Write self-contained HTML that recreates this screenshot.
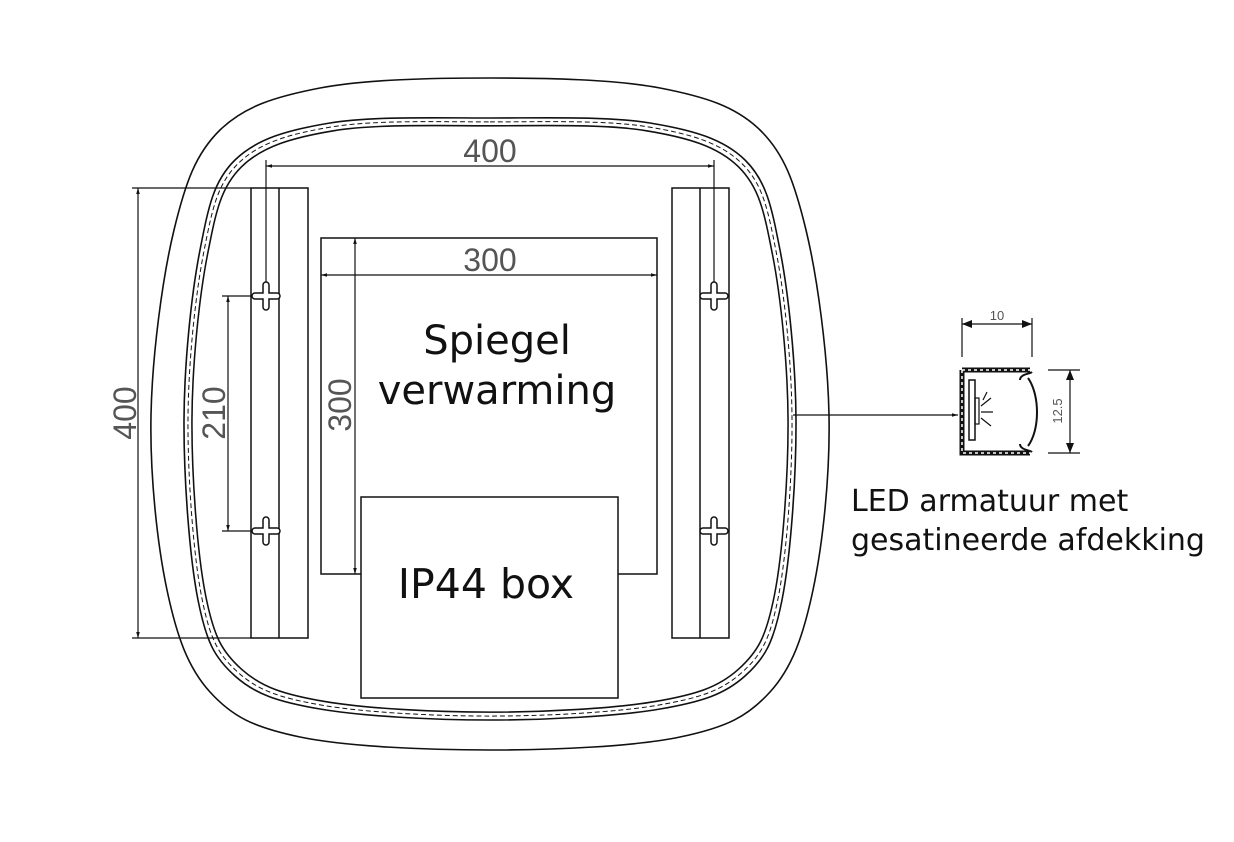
<!DOCTYPE html>
<html><head><meta charset="utf-8"><style>
html,body{margin:0;padding:0;background:#fff}
svg{display:block}
.t{font-family:"DejaVu Sans","Liberation Sans",sans-serif;fill:#111}
.d{font-family:"Liberation Sans",sans-serif;fill:#555}
</style></head><body>
<svg id="s" width="1234" height="842" viewBox="0 0 1234 842" xmlns="http://www.w3.org/2000/svg">
<defs>
<marker id="ar" viewBox="0 0 10 10" refX="10" refY="5" markerWidth="10" markerHeight="6" orient="auto-start-reverse" markerUnits="userSpaceOnUse"><path d="M0,2 L10,5 L0,8 z" fill="#111"/></marker>
<marker id="arb" viewBox="0 0 10 10" refX="10" refY="5" markerWidth="22" markerHeight="10" orient="auto-start-reverse" markerUnits="userSpaceOnUse"><path d="M0,1 L10,5 L0,9 z" fill="#111"/></marker>
<path id="band" d=""/>
</defs>
<g fill="none" stroke="#111" stroke-width="1.6">
<path id="outer" d=""/>
<use href="#band"/>
<use href="#band" transform="translate(490,418) scale(0.987) translate(-490,-418)" stroke-dasharray="5,3" stroke-width="1" vector-effect="non-scaling-stroke"/>
<use href="#band" transform="translate(490,418) scale(0.974) translate(-490,-418)"/>
</g>
<g fill="#fff" stroke="#111" stroke-width="1.5">
<rect x="251" y="188" width="57" height="450"/>
<line x1="279" y1="188" x2="279" y2="638"/>
<rect x="672" y="188" width="57" height="450"/>
<line x1="700" y1="188" x2="700" y2="638"/>
<rect x="321" y="238" width="336" height="336"/>
<rect x="361" y="497" width="257" height="201"/>
</g>
<g stroke="#111" stroke-width="1.2" fill="none">
<line x1="266" y1="160" x2="266" y2="296"/><line x1="714" y1="160" x2="714" y2="296"/>
<line x1="266" y1="166" x2="714" y2="166" marker-start="url(#ar)" marker-end="url(#ar)"/>
<line x1="132" y1="188" x2="251" y2="188"/><line x1="132" y1="638" x2="251" y2="638"/>
<line x1="138" y1="188" x2="138" y2="638" marker-start="url(#ar)" marker-end="url(#ar)"/>
<line x1="222" y1="296" x2="266" y2="296"/><line x1="222" y1="531" x2="266" y2="531"/>
<line x1="228" y1="296" x2="228" y2="531" marker-start="url(#ar)" marker-end="url(#ar)"/>
<line x1="321" y1="275" x2="657" y2="275" marker-start="url(#ar)" marker-end="url(#ar)"/>
<line x1="355" y1="238" x2="355" y2="574" marker-start="url(#ar)" marker-end="url(#ar)"/>
<line x1="793" y1="415" x2="958" y2="415" marker-end="url(#ar)"/>
</g>
<g fill="#fff" stroke="#111" stroke-width="1.5">
<path id="cr" d="M-3,-11 a3,3 0 0 1 6,0 v8 h8 a3,3 0 0 1 0,6 h-8 v8 a3,3 0 0 1 -6,0 v-8 h-8 a3,3 0 0 1 0,-6 h8 z" transform="translate(266,296)"/>
<use href="#cr" transform="translate(0,235)"/>
<use href="#cr" transform="translate(448,0)"/>
<use href="#cr" transform="translate(448,235)"/>
</g>
<g class="d" font-size="32">
<text x="490" y="162" text-anchor="middle">400</text>
<text x="490" y="271" text-anchor="middle">300</text>
<text transform="translate(136,413) rotate(-90)" text-anchor="middle">400</text>
<text transform="translate(225,413) rotate(-90)" text-anchor="middle">210</text>
<text transform="translate(351,405) rotate(-90)" text-anchor="middle">300</text>
</g>
<g class="t" font-size="40">
<text x="497" y="354" text-anchor="middle">Spiegel</text>
<text x="497" y="404" text-anchor="middle">verwarming</text>
<text x="486" y="598" text-anchor="middle" font-size="41">IP44 box</text>
</g>
<g stroke="#111" stroke-width="1.2" fill="none">
<line x1="962" y1="318" x2="962" y2="357"/><line x1="1032" y1="318" x2="1032" y2="357"/>
<line x1="962" y1="324" x2="1032" y2="324" marker-start="url(#arb)" marker-end="url(#arb)"/>
<line x1="1048" y1="370" x2="1080" y2="370"/><line x1="1048" y1="453" x2="1080" y2="453"/>
<line x1="1070" y1="370" x2="1070" y2="453" marker-start="url(#arb)" marker-end="url(#arb)"/>
<path d="M962,370 H1030 M962,370 V453 H1030" stroke-width="5"/>
<path d="M962,370 H1030 M962,370 V453 H1030" stroke="#fff" stroke-width="1.5" stroke-dasharray="3,3"/>
<path d="M1020,380 c0,-6 10,-6 12,-8 M1020,444 c0,6 10,6 12,8 M1028,378 C1040,395 1040,430 1028,446" stroke-width="2"/>
<rect x="969" y="380" width="6" height="60" stroke-width="1.5"/>
<rect x="975" y="398" width="4" height="26" stroke-width="1.2"/>
<path d="M981,406 l10,-8 M981,412 h12 M981,418 l10,8 M983,400 l4,-8"/>
</g>
<text class="d" x="997" y="320" font-size="13" text-anchor="middle">10</text>
<text class="d" transform="translate(1062,411) rotate(-90)" font-size="13" text-anchor="middle">12.5</text>
<g class="t" font-size="30">
<text x="851" y="511">LED armatuur met</text>
<text x="851" y="550">gesatineerde afdekking</text>
</g>
</svg>
<script>
function build(right){
  var pts=right.slice();
  for(var i=right.length-2;i>=1;i--){pts.push([980-right[i][0],right[i][1]]);}
  var n=pts.length,d="M"+pts[0][0]+","+pts[0][1];
  for(var i=0;i<n;i++){
    var p0=pts[(i-1+n)%n],p1=pts[i],p2=pts[(i+1)%n],p3=pts[(i+2)%n];
    var c1=[p1[0]+(p2[0]-p0[0])/6,p1[1]+(p2[1]-p0[1])/6];
    var c2=[p2[0]-(p3[0]-p1[0])/6,p2[1]-(p3[1]-p1[1])/6];
    d+=" C"+c1[0].toFixed(1)+","+c1[1].toFixed(1)+" "+c2[0].toFixed(1)+","+c2[1].toFixed(1)+" "+p2[0]+","+p2[1];
  }
  return d+"Z";
}
var outer=[[490,78],[660,88],[760,130],[806,230],[829,415],[813,590],[770,692],[680,737],[490,750]];
var band=[[490,118],[650,123],[745,160],[780,250],[796,420],[782,600],[745,676],[660,709],[490,720]];
document.getElementById("outer").setAttribute("d",build(outer));
document.getElementById("band").setAttribute("d",build(band));
</script>
</body></html>
